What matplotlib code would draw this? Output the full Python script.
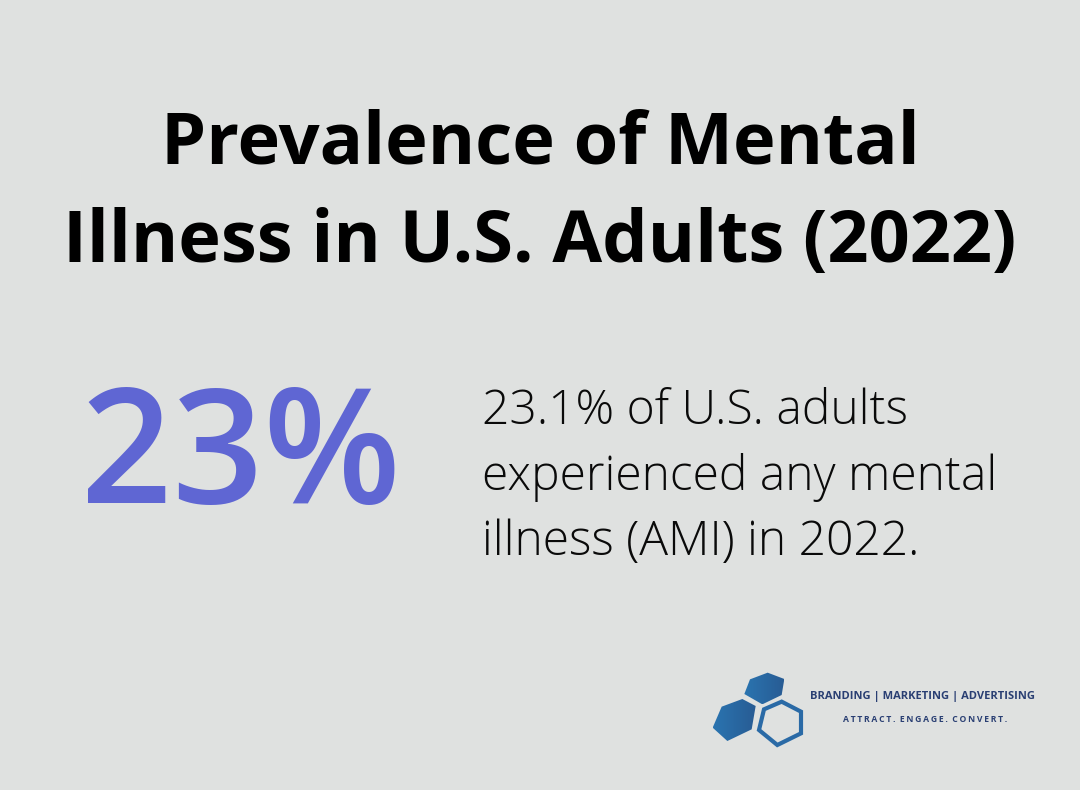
import matplotlib
matplotlib.use("Agg")
import matplotlib.pyplot as plt
from matplotlib.patches import Polygon
from matplotlib.colors import LinearSegmentedColormap
import numpy as np

title_lines = ["Prevalence of Mental", "Illness in U.S. Adults (2022)"]
stat = "23%"
body_lines = ["23.1% of U.S. adults", "experienced any mental", "illness (AMI) in 2022."]
brand = "BRANDING | MARKETING | ADVERTISING"
tagline = "ATTRACT. ENGAGE. CONVERT."

W, H = 1080, 790
fig = plt.figure(figsize=(W/100, H/100), dpi=100, facecolor="#dfe1e0")
ax = fig.add_axes([0, 0, 1, 1])
ax.set_xlim(0, W); ax.set_ylim(H, 0); ax.axis("off")

for s, y in zip(title_lines, [144, 243]):
    ax.text(540, y, s, fontfamily="Open Sans", fontweight="bold", fontsize=51.9, ha="center", va="center", color="black")
ax.text(241, 461, stat, fontfamily="Open Sans", fontweight="semibold", fontsize=115, ha="center", va="center", color="#5f66d3")
for s, y in zip(body_lines, [412, 477, 543]):
    ax.text(482, y, s, fontfamily="Open Sans", fontweight="light", fontsize=34.6, ha="left", va="center", color="#0a0a0a")

cmap = LinearSegmentedColormap.from_list("logo", ["#2a74b0", "#285c94"])
def logo_pts(p):
    p = np.array(p, float)
    return np.c_[700 + p[:, 0]/3, 660 + p[:, 1]/3]
for p in ([(203,38),(253,57),(245,105),(187,133),(133,102),(150,58)],
          [(127,117),(167,138),(155,208),(82,243),(38,203),(65,140)]):
    pts = logo_pts(p)
    poly = Polygon(pts, closed=True, facecolor="none", edgecolor="none")
    ax.add_patch(poly)
    im = ax.imshow(np.linspace(0, 1, 64).reshape(1, -1), cmap=cmap, aspect="auto",
                   extent=[pts[:,0].min(), pts[:,0].max(), pts[:,1].max(), pts[:,1].min()], zorder=2)
    im.set_clip_path(poly)
ax.add_patch(Polygon(logo_pts([(245,125),(303,155),(303,220),(232,255),(177,210),(192,148)]),
                     closed=True, facecolor="none", edgecolor="#2a6aa6", linewidth=3))
ax.set_xlim(0, W); ax.set_ylim(H, 0)

ax.text(923, 696.5, brand, fontfamily="Open Sans", fontweight="bold", fontsize=8, ha="center", va="center", color="#2a3f73")
ax.text(925.5, 719, "\u2009".join(tagline).replace("\u2009 \u2009", "\u2002"),
        fontfamily="Open Sans", fontweight="bold", fontsize=6.2, ha="center", va="center", color="#2a3f73")
fig.savefig("out.png", dpi=100, facecolor=fig.get_facecolor())
